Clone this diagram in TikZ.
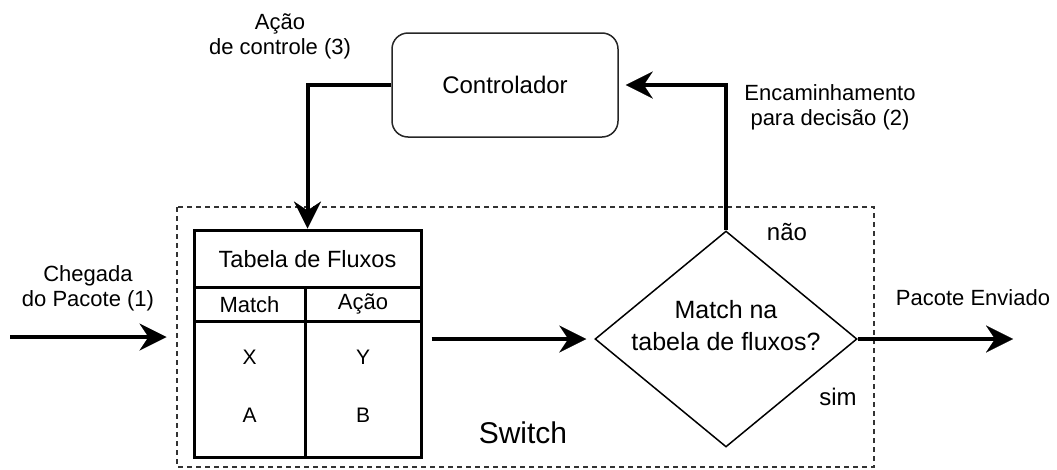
\documentclass[tikz,border=0pt]{standalone}
\usepackage{fontspec}
\setmainfont{Liberation Sans}
\usetikzlibrary{shapes.geometric,arrows.meta}
\begin{document}
\begin{tikzpicture}[x=1pt,y=-1pt,
  flow/.style={line width=4pt,
    -{Stealth[length=27pt,width=27pt,inset=9pt,line width=0.1pt]}},
  lbl/.style={font=\fontsize{22}{25}\selectfont, align=center, inner sep=0pt},
  grid/.style={line width=3pt},
  cell/.style={font=\fontsize{22}{25}\selectfont, inner sep=0pt}
]
\useasboundingbox (0,0) rectangle (1057,469);

% switch boundary
\draw[line width=1.5pt, dash pattern=on 5pt off 4pt, black!80] (177,207) rectangle (874,467);
\node[font=\fontsize{30}{34}\selectfont, inner sep=0pt] (sw) at (523,433) {Switch};

% controller
\node[draw, line width=1.5pt, black!85, text=black, rounded corners=16pt,
      minimum width=226pt, minimum height=104pt,
      font=\fontsize{24}{28}\selectfont] (ctrl) at (505,85) {Controlador};

% flow table
\node[draw, line width=3pt, minimum width=227pt, minimum height=227pt, inner sep=0pt]
  (tab) at (307.5,343.5) {};
\coordinate (r1l) at (194,287);
\coordinate (r1r) at (421,287);
\coordinate (r2l) at (194,321);
\coordinate (r2r) at (421,321);
\coordinate (ct) at (305,287);
\coordinate (cb) at (305,457);
\draw[grid] (r1l) -- (r1r);
\draw[grid] (r2l) -- (r2r);
\draw[grid] (ct) -- (cb);
\node[font=\fontsize{23.5}{27}\selectfont, inner sep=0pt] (tt) at (307.5,259) {Tabela de Fluxos};
\node[cell] (hm) at (249.5,305) {Match};
\node[cell] (ha) at (363,304) {Ação};
\node[cell, font=\fontsize{21}{24}\selectfont] (cx) at (249.5,357) {X};
\node[cell, font=\fontsize{21}{24}\selectfont] (cy) at (363,357) {Y};
\node[cell, font=\fontsize{21}{24}\selectfont] (ca) at (249.5,415) {A};
\node[cell, font=\fontsize{21}{24}\selectfont] (cb2) at (363,415) {B};

% decision
\node[draw, diamond, line width=1.5pt, minimum width=262pt, minimum height=216pt,
      inner sep=0pt] (dia) at (726,339) {};
\node[font=\fontsize{25}{32}\selectfont, align=center, inner sep=0pt] (q) at (726,326)
  {Match na\\tabela de fluxos?};

% labels
\node[lbl] (a3) at (280,36) {Ação\\de controle (3)};
\node[lbl] (enc) at (830,107) {Encaminhamento\\para decisão (2)};
\node[lbl, font=\fontsize{24}{27}\selectfont] (nao) at (787,232) {não};
\node[lbl, font=\fontsize{24}{27}\selectfont] (sim) at (838,397) {sim};
\node[lbl] (env) at (973,298) {Pacote Enviado};
\node[lbl] (cheg) at (88,288) {Chegada\\do Pacote (1)};

% connectors
\coordinate (src) at (10,337);
\coordinate (dst) at (1013,339);
\draw[flow, shorten >=26pt] (src) -- (tab.west |- src);
\draw[flow, shorten <=9pt, shorten >=8pt] (tab.east |- dia.west) -- (dia.west);
\draw[flow] (dia.east) -- (dst);
\draw[flow, shorten >=7pt] (dia.north) |- (ctrl.east);
\draw[flow] (ctrl.west) -| (tab.north);
\end{tikzpicture}
\end{document}
